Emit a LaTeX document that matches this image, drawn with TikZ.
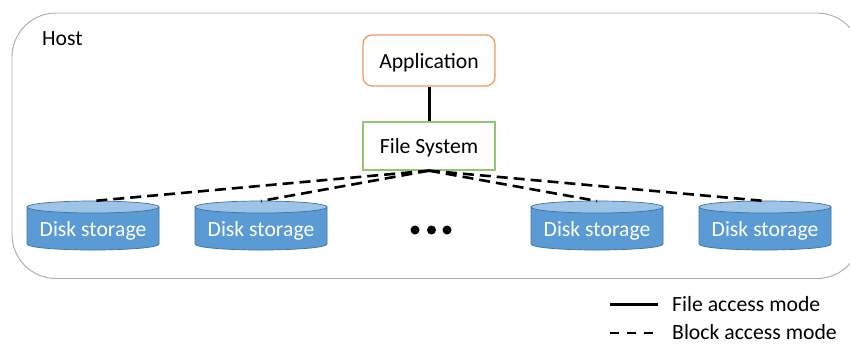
\documentclass[tikz,border=0pt]{standalone}
\usepackage{fontspec}
\setmainfont{Carlito}
\definecolor{diskblue}{HTML}{5B9BD5}
\definecolor{disktop}{HTML}{9DC3E6}
\definecolor{diskline}{HTML}{41719C}
\definecolor{apporange}{HTML}{F19A5E}
\definecolor{fsgreen}{HTML}{93C572}
\definecolor{hostgray}{HTML}{ABABAB}
\newcommand{\disk}[2]{%
  \fill[diskblue] (#1,207) -- (#1,244) .. controls (#1,247.5) and (#1+30,250) .. (#1+66,250) .. controls (#1+102,250) and (#1+132,247.5) .. (#1+132,244) -- (#1+132,207) -- cycle;
  \draw[diskline,line width=.7pt] (#1,207) -- (#1,244) .. controls (#1,247.5) and (#1+30,250) .. (#1+66,250) .. controls (#1+102,250) and (#1+132,247.5) .. (#1+132,244) -- (#1+132,207);
  \draw[diskline,fill=disktop,line width=.7pt] (#1+66,207) ellipse [x radius=66,y radius=6];
  \coordinate (#2) at (#1+66,201);
  \node[disklabel,anchor=base] (#2l) at (#1+66,236) {Disk storage};
}
\tikzset{
  x=1pt,y=-1pt,
  disklabel/.style={text=white,font=\fontsize{21.7}{24}\selectfont,inner sep=0pt},
  textlabel/.style={text=black,font=\fontsize{21.7}{24}\selectfont,inner sep=0pt},
  solidlink/.style={line width=3pt},
  dashlink/.style={line width=2.6pt,dash pattern=on 11pt off 6pt},
}
\begin{document}
\begin{tikzpicture}
\useasboundingbox (0,0) rectangle (850,343);
\fill[white] (0,0) rectangle (850,343);
\begin{scope}
\clip (0,0) rectangle (850,343);
\draw[hostgray,line width=.9pt,rounded corners=44pt] (12,13) rectangle (861,278.5);
\end{scope}
\node[textlabel,anchor=base west] (host) at (42,45) {Host};
\node[draw=apporange,line width=1.3pt,rounded corners=9pt,minimum width=132pt,minimum height=51pt,inner sep=0pt] (app) at (429,60.5) {};
\node[textlabel,anchor=base] (applabel) at (429,68) {Application};
\node[draw=fsgreen,line width=1.3pt,minimum width=132pt,minimum height=48pt,inner sep=0pt] (fs) at (429,146) {};
\node[textlabel,anchor=base] (fslabel) at (429,153) {File System};
\draw[solidlink] (app.south) -- (fs.north);
\disk{27}{d1}
\disk{195}{d2}
\disk{531}{d3}
\disk{699}{d4}
\draw[dashlink] (fs.south) -- (d1);
\draw[dashlink] (fs.south) -- (d2);
\draw[dashlink] (fs.south) -- (d3);
\draw[dashlink] (fs.south) -- (d4);
\fill (415,230) circle (4.5pt) (431.5,230) circle (4.5pt) (447,230) circle (4.5pt);
\coordinate (s1) at (610,304);
\coordinate (s2) at (658,304);
\coordinate (b1) at (610,333);
\coordinate (b2) at (654,333);
\draw[solidlink] (s1) -- (s2);
\draw[line width=2.6pt,dash pattern=on 9pt off 8pt] (b1) -- (b2);
\node[textlabel,anchor=base west] (filemode) at (672,311) {File access mode};
\node[textlabel,anchor=base west] (blockmode) at (672,339) {Block access mode};
\end{tikzpicture}
\end{document}
